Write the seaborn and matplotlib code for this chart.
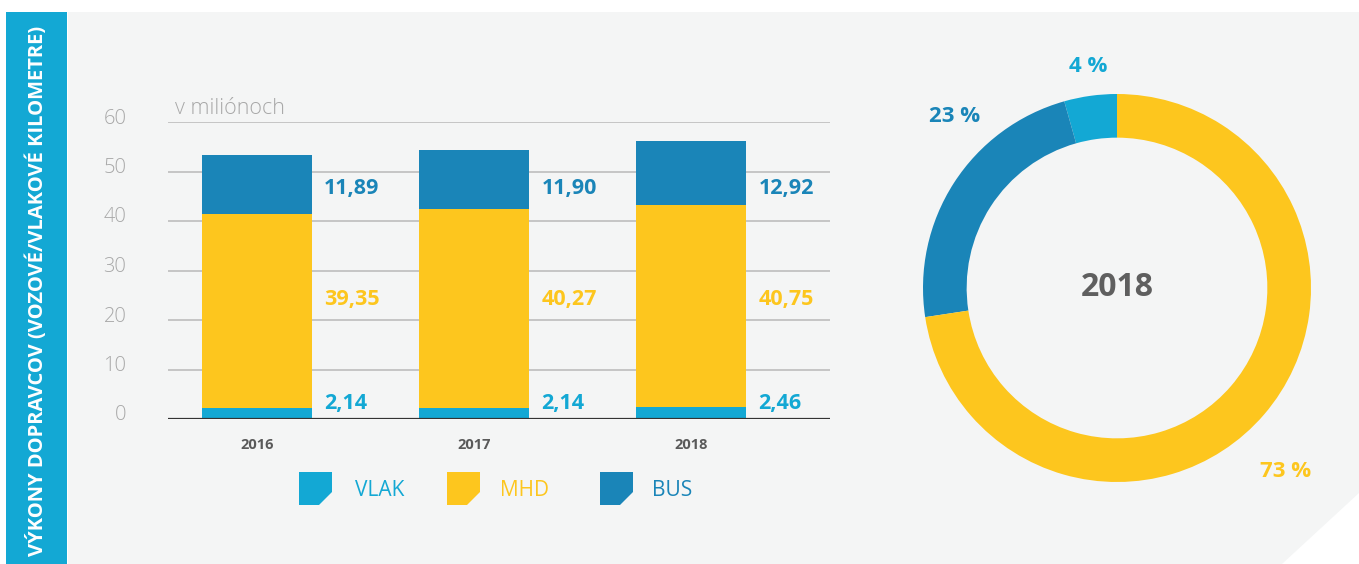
import matplotlib
matplotlib.use("Agg")
import matplotlib.pyplot as plt
import matplotlib.transforms as mtransforms
from matplotlib.patches import Polygon, Rectangle
import numpy as np
import pandas as pd
import seaborn as sns

# Data
years = ["2016", "2017", "2018"]
series = ["VLAK", "MHD", "BUS"]
vlak = [2.14, 2.14, 2.46]
mhd = [39.35, 40.27, 40.75]
bus = [11.89, 11.90, 12.92]
labels_vlak = ["2,14", "2,14", "2,46"]
labels_mhd = ["39,35", "40,27", "40,75"]
labels_bus = ["11,89", "11,90", "12,92"]
donut_year = "2018"
donut_values = [2.46, 12.92, 40.75]  # VLAK, BUS, MHD
donut_names = ["VLAK", "BUS", "MHD"]

colors = {"VLAK": "#13a8d4", "MHD": "#fdc61e", "BUS": "#1a85b8"}

sns.set_theme(style="white")
plt.rcParams["font.family"] = ["Open Sans", "DejaVu Sans"]

W, H = 1359, 564
fig = plt.figure(figsize=(W / 100, H / 100), dpi=100)
fig.patch.set_facecolor("white")


def fx(px):
    return px / W


def fy(py):
    return 1 - py / H


# gray panel with cut corner
panel = Polygon([(fx(68), fy(12)), (fx(1359), fy(12)), (fx(1359), fy(493)),
                 (fx(1282), fy(564)), (fx(68), fy(564))],
                closed=True, transform=fig.transFigure, facecolor="#f4f5f5",
                edgecolor="none", zorder=-5)
fig.patches.append(panel)
side = Rectangle((fx(6), fy(564)), fx(61), (564 - 12) / H, transform=fig.transFigure,
                 facecolor="#13a8d4", edgecolor="none", zorder=-5)
fig.patches.append(side)
fig.text(fx(37), fy(291), "VÝKONY DOPRAVCOV (VOZOVÉ/VLAKOVÉ KILOMETRE)", rotation=90,
         color="white", fontsize=14.5, fontweight="bold", ha="center", va="center")

# stacked bars
df = pd.DataFrame({"year": years, "VLAK": vlak, "MHD": mhd, "BUS": bus})
df["top_mhd"] = df["VLAK"] + df["MHD"]
df["top_bus"] = df["top_mhd"] + df["BUS"]

ax = fig.add_axes([fx(168), fy(419), fx(830 - 168), (419 - 122) / H])
ax.set_zorder(2)
ax.set_facecolor("none")
for col, name in [("top_bus", "BUS"), ("top_mhd", "MHD"), ("VLAK", "VLAK")]:
    sns.barplot(data=df, x="year", y=col, color=colors[name], saturation=1,
                width=0.51, ax=ax, zorder=3, edgecolor="none")

ax.set_xlim(-0.41, 2.64)
ax.set_ylim(0, 60)
for v in range(10, 70, 10):
    ax.axhline(v, color="#b8b8b8", lw=1.1, zorder=1)
ax.axhline(0, color="#333333", lw=1.6, zorder=4)
for s in ax.spines.values():
    s.set_visible(False)
ax.set_xlabel("")
ax.set_ylabel("")
ax.set_yticks(range(0, 70, 10))
ax.set_yticklabels([str(v) for v in range(0, 70, 10)], color="#a8a8a8", fontsize=14.5,
                   fontweight="light")
ax.tick_params(axis="y", length=0, pad=30)
shift = mtransforms.ScaledTranslation(0, 6 / 100, fig.dpi_scale_trans)
for lbl in ax.get_yticklabels():
    lbl.set_transform(lbl.get_transform() + shift)
ax.set_xticks(range(len(years)))
ax.set_xticklabels(years, color="#5a5a5a", fontsize=10.5, fontweight="bold")
ax.tick_params(axis="x", length=0, pad=14)
ax.text((175 - 168) / (830 - 168), 60.6, "v miliónoch", color="#a8a8a8", fontsize=15.5,
        fontweight="light", ha="left", va="bottom", transform=ax.get_yaxis_transform())

label_y = {"VLAK": 3.2, "MHD": 24.2, "BUS": 46.5}
for i in range(len(years)):
    x = i + 0.255 + 0.055
    ax.text(x, label_y["VLAK"], labels_vlak[i], color=colors["VLAK"], fontsize=15.5,
            fontweight="bold", ha="left", va="center", zorder=5)
    ax.text(x, label_y["MHD"], labels_mhd[i], color=colors["MHD"], fontsize=15.5,
            fontweight="bold", ha="left", va="center", zorder=5)
    ax.text(x, label_y["BUS"], labels_bus[i], color=colors["BUS"], fontsize=15.5,
            fontweight="bold", ha="left", va="center", zorder=5)

# legend with cut-corner squares
leg_x = [299, 447, 600]
leg_tx = [355, 500, 652]
for name, lx, tx in zip(series, leg_x, leg_tx):
    s, c = 33, 13
    pts = [(lx, 472), (lx + s, 472), (lx + s, 505 - c), (lx + s - c, 505), (lx, 505)]
    fig.patches.append(Polygon([(fx(a), fy(b)) for a, b in pts], closed=True,
                               transform=fig.transFigure, facecolor=colors[name],
                               edgecolor="none"))
    fig.text(fx(tx), fy(490), name, color=colors[name], fontsize=15, ha="left",
             va="center")

# donut
cx, cy, r = 1117, 288, 194
ax2 = fig.add_axes([fx(cx - r), fy(cy + r), fx(2 * r), 2 * r / H])
ax2.set_zorder(2)
ax2.pie(donut_values, colors=[colors[n] for n in donut_names], startangle=90,
        counterclock=True, radius=1, wedgeprops=dict(width=0.225, edgecolor="none"))
ax2.set_xlim(-1, 1)
ax2.set_ylim(-1, 1)
ax2.set_aspect("equal")
ax2.axis("off")
total = sum(donut_values)
pcts = [round(v / total * 100) for v in donut_values]
label_pos = [(97.5, 1.15), (133.5, 1.22), (-47.4, 1.285)]
for name, p, (ang, rr) in zip(donut_names, pcts, label_pos):
    a = np.deg2rad(ang)
    ax2.text(rr * np.cos(a), rr * np.sin(a), f"{p} %", color=colors[name], fontsize=16,
             fontweight="bold", ha="center", va="center", clip_on=False)
ax2.text(0, 0, donut_year, color="#5f5f5f", fontsize=23, fontweight="bold",
         ha="center", va="center")

fig.savefig("out.png", dpi=100, facecolor="white")
